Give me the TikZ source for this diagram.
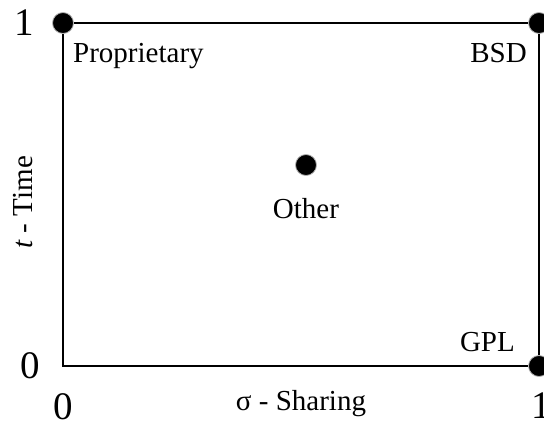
\documentclass[tikz,border=0pt]{standalone}
\usepackage{fontspec}
\setmainfont{Liberation Serif}
\usetikzlibrary{positioning}
\usetikzlibrary{calc}

\tikzset{
    license/.style={circle, fill=black, draw=black!30, line width=0.8pt, inner sep=0pt, minimum size=21pt},
    lbl/.style={inner sep=0pt, font=\fontsize{29}{33}\selectfont},
    num/.style={inner sep=0pt, font=\fontsize{39}{43}\selectfont},
}

\begin{document}
\begin{tikzpicture}[x=1pt, y=-1pt]
    \useasboundingbox (0,0) rectangle (544,426);

    % corners of the square
    \coordinate (sw) at (63,366);
    \coordinate (nw) at (63,23);
    \coordinate (ne) at (539,23);
    \coordinate (se) at (539,366);

    \draw[line width=1.6pt] (sw) -- (nw) -- (ne) -- (se) -- cycle;

    % licences
    \node[license] (prop) at (nw) {};
    \node[license] (bsd) at (ne) {};
    \node[license] (gpl) at (se) {};
    \node[license] (other) at (306,165) {};

    \node[lbl, below right=20pt and 10pt of nw] (prop-l) {Proprietary};
    \node[lbl, below left=20pt and 12pt of ne] (bsd-l) {BSD};
    \node[lbl, above left=14pt and 24pt of se] (gpl-l) {GPL};
    \node[lbl, below=22pt of other] (other-l) {Other};

    % axes
    \node[num, left=29pt of nw] (t1) {1};
    \node[num, left=23pt of sw] (t0) {0};
    \node[num, below=27pt of sw] (s0) {0};
    \node[num, below=27pt of se, xshift=2pt] (s1) {1};

    \node[lbl] (sigma) at ($(sw)!0.5!(se)+(0,38)$) {σ - Sharing};
    \node[lbl, rotate=90] (time) at ($(sw)!0.5!(nw)+(-40,8)$) {\textit{t} - Time};
\end{tikzpicture}
\end{document}
